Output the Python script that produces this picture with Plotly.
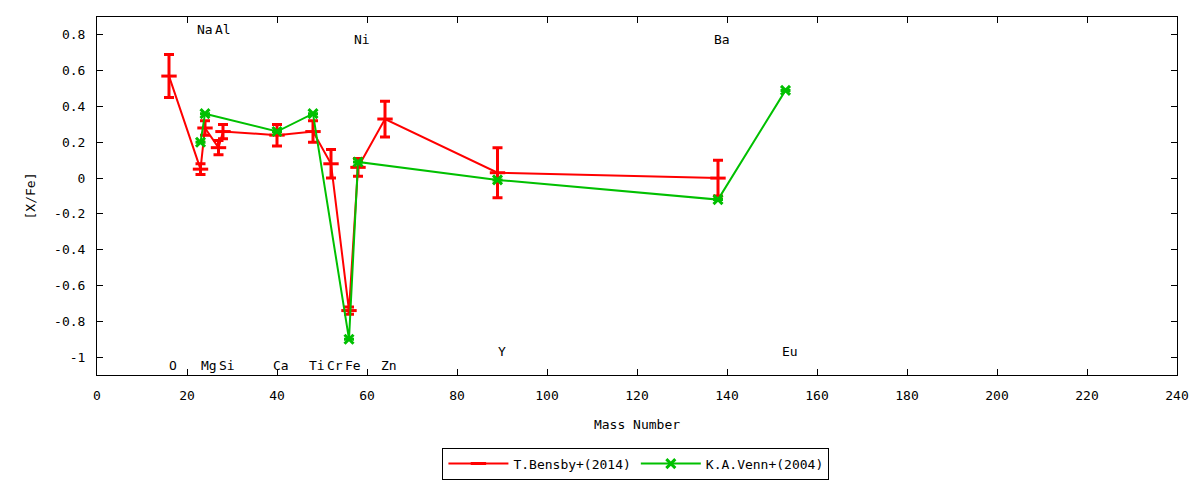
import plotly.graph_objects as go

# T.Bensby+(2014): mass number, [X/Fe], error
bensby_mass = [16, 23, 24, 27, 28, 40, 48, 52, 56, 58, 64, 89, 138]
bensby_xfe = [0.57, 0.05, 0.28, 0.17, 0.26, 0.24, 0.26, 0.08, -0.74, 0.06, 0.33, 0.03, 0.00]
bensby_err = [0.12, 0.03, 0.04, 0.04, 0.04, 0.06, 0.06, 0.08, 0.02, 0.05, 0.10, 0.14, 0.10]

# K.A.Venn+(2004)
venn_mass = [23, 24, 40, 48, 56, 58, 89, 138, 153]
venn_xfe = [0.20, 0.36, 0.26, 0.36, -0.90, 0.09, -0.01, -0.12, 0.49]
venn_err = [0, 0, 0, 0, 0, 0, 0, 0, 0]

# element labels
elem_names = ["O", "Na", "Mg", "Al", "Si", "Ca", "Ti", "Cr", "Fe", "Ni", "Zn", "Y", "Ba", "Eu"]
elem_mass = [16, 23, 24, 27, 28, 40, 48, 52, 56, 58, 64, 89, 138, 153]

x_ticks = list(range(0, 241, 20))
y_ticks = [-1.0, -0.8, -0.6, -0.4, -0.2, 0.0, 0.2, 0.4, 0.6, 0.8]

FONT = "DejaVu Sans Mono"
RED = "#ff0000"
GREEN = "#00c000"

fig = go.Figure()
fig.add_trace(go.Scatter(
    x=bensby_mass, y=bensby_xfe, name="T.Bensby+(2014)",
    mode="lines+markers",
    line=dict(color=RED, width=2),
    marker=dict(symbol="line-ew", size=11, color=RED, line=dict(color=RED, width=3)),
    error_y=dict(type="data", array=bensby_err, color=RED, thickness=3, width=5),
))
fig.add_trace(go.Scatter(
    x=venn_mass, y=venn_xfe, name="K.A.Venn+(2004)",
    mode="lines+markers",
    line=dict(color=GREEN, width=2),
    marker=dict(symbol="x-thin", size=9, color=GREEN, line=dict(color=GREEN, width=3)),
    error_y=dict(type="data", array=venn_err, color=GREEN, thickness=3, width=5),
))

# label rows (y in data units); anything not listed sits on the bottom row
label_row = {
    "Na": 0.828, "Al": 0.828,
    "Ni": 0.772, "Ba": 0.772,
    "Y": -0.967, "Eu": -0.967,
}
for name, m in zip(elem_names, elem_mass):
    fig.add_annotation(
        x=m, y=label_row.get(name, -1.045), text=name, showarrow=False,
        xshift=4, font=dict(family=FONT, size=13, color="black"),
    )

axis_common = dict(
    showgrid=False, zeroline=False, showline=True, linecolor="black",
    linewidth=1, mirror="allticks", ticks="inside", ticklen=6,
    tickcolor="black", tickfont=dict(family=FONT, size=13, color="black"),
)
fig.update_xaxes(
    range=[0, 240], tickvals=x_ticks, ticktext=[str(v) for v in x_ticks],
    title=dict(text="Mass Number", font=dict(family=FONT, size=13, color="black"), standoff=18),
    ticklabelstandoff=8, **axis_common,
)
fig.update_yaxes(
    range=[-1.1, 0.9], tickvals=y_ticks, ticktext=[f"{v:g}" for v in y_ticks],
    title=dict(text="[X/Fe]", font=dict(family=FONT, size=13, color="black"), standoff=15),
    ticklabelstandoff=8, **axis_common,
)
# page body keeps its default 8px margin, so the figure is sized to fit inside it
fig.update_layout(
    width=1192, height=472,
    margin=dict(l=89, r=23, t=9, b=105, autoexpand=False),
    paper_bgcolor="white", plot_bgcolor="white",
    font=dict(family=FONT, size=13, color="black"),
    legend=dict(
        orientation="h", x=0.499, xanchor="center", y=-0.203, yanchor="top",
        bordercolor="black", borderwidth=1, itemwidth=60,
        font=dict(family=FONT, size=13, color="black"),
    ),
)

fig.write_html("out.html")
